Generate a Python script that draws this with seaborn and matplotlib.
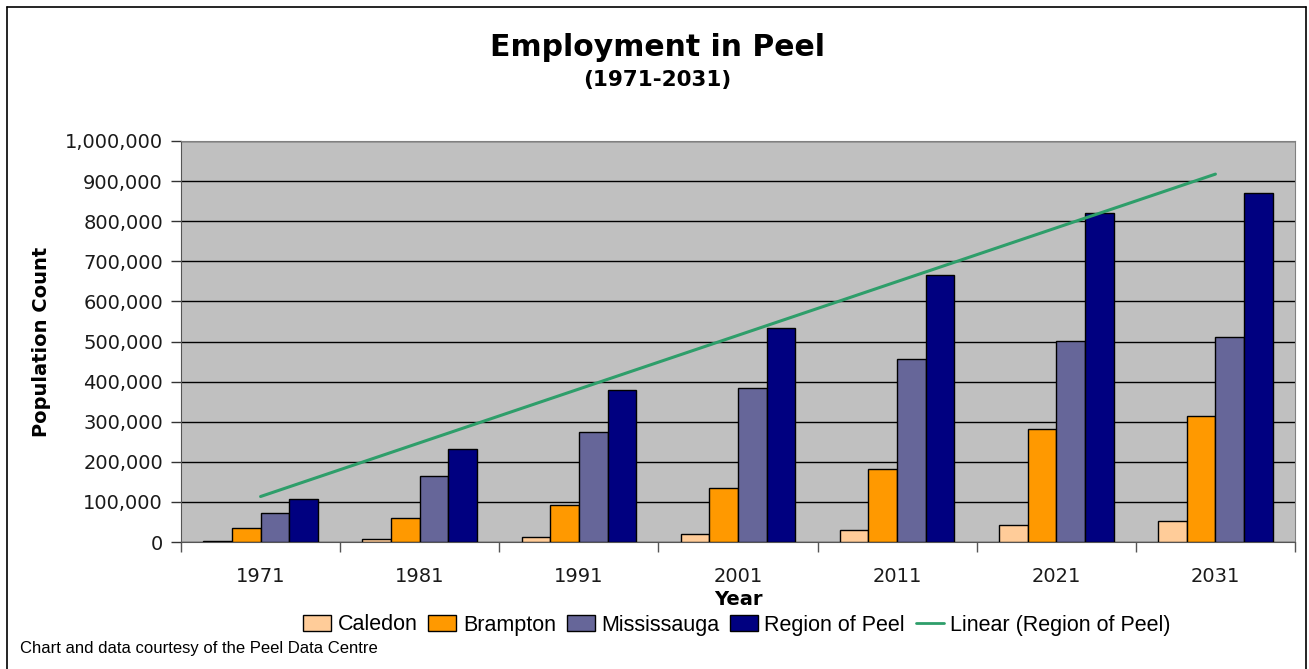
import numpy as np
import pandas as pd
import matplotlib
matplotlib.use("Agg")
import matplotlib.pyplot as plt
import matplotlib.patches as mpatches
import matplotlib.lines as mlines
from matplotlib.ticker import FuncFormatter, MultipleLocator, FixedLocator
import seaborn as sns

# ---- data ----
years = ["1971", "1981", "1991", "2001", "2011", "2021", "2031"]
caledon = [2000, 7000, 12000, 20000, 30000, 42000, 52000]
brampton = [35000, 60000, 92000, 135000, 182000, 282000, 314000]
mississauga = [72000, 165000, 274000, 384000, 456000, 501000, 511000]
region_of_peel = [107000, 232000, 379000, 534000, 666000, 820000, 870000]

series_names = ["Caledon", "Brampton", "Mississauga", "Region of Peel"]
series_colors = ["#FFCC99", "#FF9900", "#666699", "#000080"]
trend_color = "#2E9E6A"

df = pd.DataFrame({
    "year": years * 4,
    "value": caledon + brampton + mississauga + region_of_peel,
    "area": sum([[n] * len(years) for n in series_names], []),
})

# ---- figure ----
sns.set_style("white")
plt.rcParams["font.family"] = ["DejaVu Sans"]
plt.rcParams["text.color"] = "black"

fig = plt.figure(figsize=(13.09, 6.69), dpi=100)
ax = fig.add_axes([181 / 1309, 1 - 542 / 669, (1295 - 181) / 1309, (542 - 141) / 669])

sns.barplot(data=df, x="year", y="value", hue="area", order=years,
            hue_order=series_names, palette=series_colors, saturation=1,
            width=0.72, gap=0, edgecolor="black", linewidth=1,
            legend=False, ax=ax, zorder=3)

# linear trend of Region of Peel
xi = np.arange(len(years))
slope, intercept = np.polyfit(xi, region_of_peel, 1)
ax.plot(xi, slope * xi + intercept, color=trend_color, lw=2.2, zorder=4)

ax.set_facecolor("#C0C0C0")
ax.set_ylim(0, 1_000_000)
ax.set_xlim(-0.5, len(years) - 0.5)
ax.yaxis.set_major_locator(MultipleLocator(100_000))
ax.yaxis.set_major_formatter(FuncFormatter(lambda v, p: f"{int(v):,}"))
ax.grid(axis="y", color="black", lw=1, zorder=1)
ax.set_axisbelow(True)
for s in ["top", "right"]:
    ax.spines[s].set_color("#808080")
ax.spines["left"].set_color("#555555")
ax.spines["bottom"].set_color("#555555")

ax.tick_params(axis="y", length=7, width=1, color="#333333", labelsize=14,
               labelcolor="#1a1a1a", pad=6, left=True)
ax.tick_params(axis="x", which="major", length=0, labelsize=14,
               labelcolor="#1a1a1a", pad=18)
ax.xaxis.set_minor_locator(FixedLocator(np.arange(-0.5, len(years), 1)))
ax.tick_params(axis="x", which="minor", length=7, width=1, color="#555555",
               bottom=True)

ax.set_xlabel("Year", fontsize=14, fontweight="bold", labelpad=3, color="black")
ax.set_ylabel("Population Count", fontsize=14, fontweight="bold", labelpad=10,
              color="black")

# titles
fig.text(0.502, 1 - 47 / 669, "Employment in Peel", ha="center", va="center",
         fontsize=21.5, fontweight="bold", color="black")
fig.text(0.502, 1 - 80 / 669, "(1971-2031)", ha="center", va="center",
         fontsize=15.5, fontweight="bold", color="black")

# legend
handles = [mpatches.Patch(facecolor=c, edgecolor="black", lw=1, label=n)
           for n, c in zip(series_names, series_colors)]
handles.append(mlines.Line2D([], [], color=trend_color, lw=2,
                             label="Linear (Region of Peel)"))
fig.legend(handles=handles, loc="center", bbox_to_anchor=(0.563, 1 - 625 / 669),
           ncol=5, frameon=False, handlelength=1.3, handleheight=0.8,
           handletextpad=0.3, columnspacing=0.5,
           prop={"family": "Liberation Sans", "size": 15.5})

fig.text(20 / 1309, 1 - 648 / 669, "Chart and data courtesy of the Peel Data Centre",
         ha="left", va="center", fontsize=12, family="Liberation Sans",
         color="black")

# outer chart border
for xs, ys in [((7, 7), (669, 7)), ((7, 1306), (7, 7)), ((1306, 1306), (7, 669))]:
    fig.add_artist(mlines.Line2D([x / 1309 for x in xs], [1 - y / 669 for y in ys],
                                 color="black", lw=1.2, transform=fig.transFigure))

fig.savefig("out.png", dpi=100)
